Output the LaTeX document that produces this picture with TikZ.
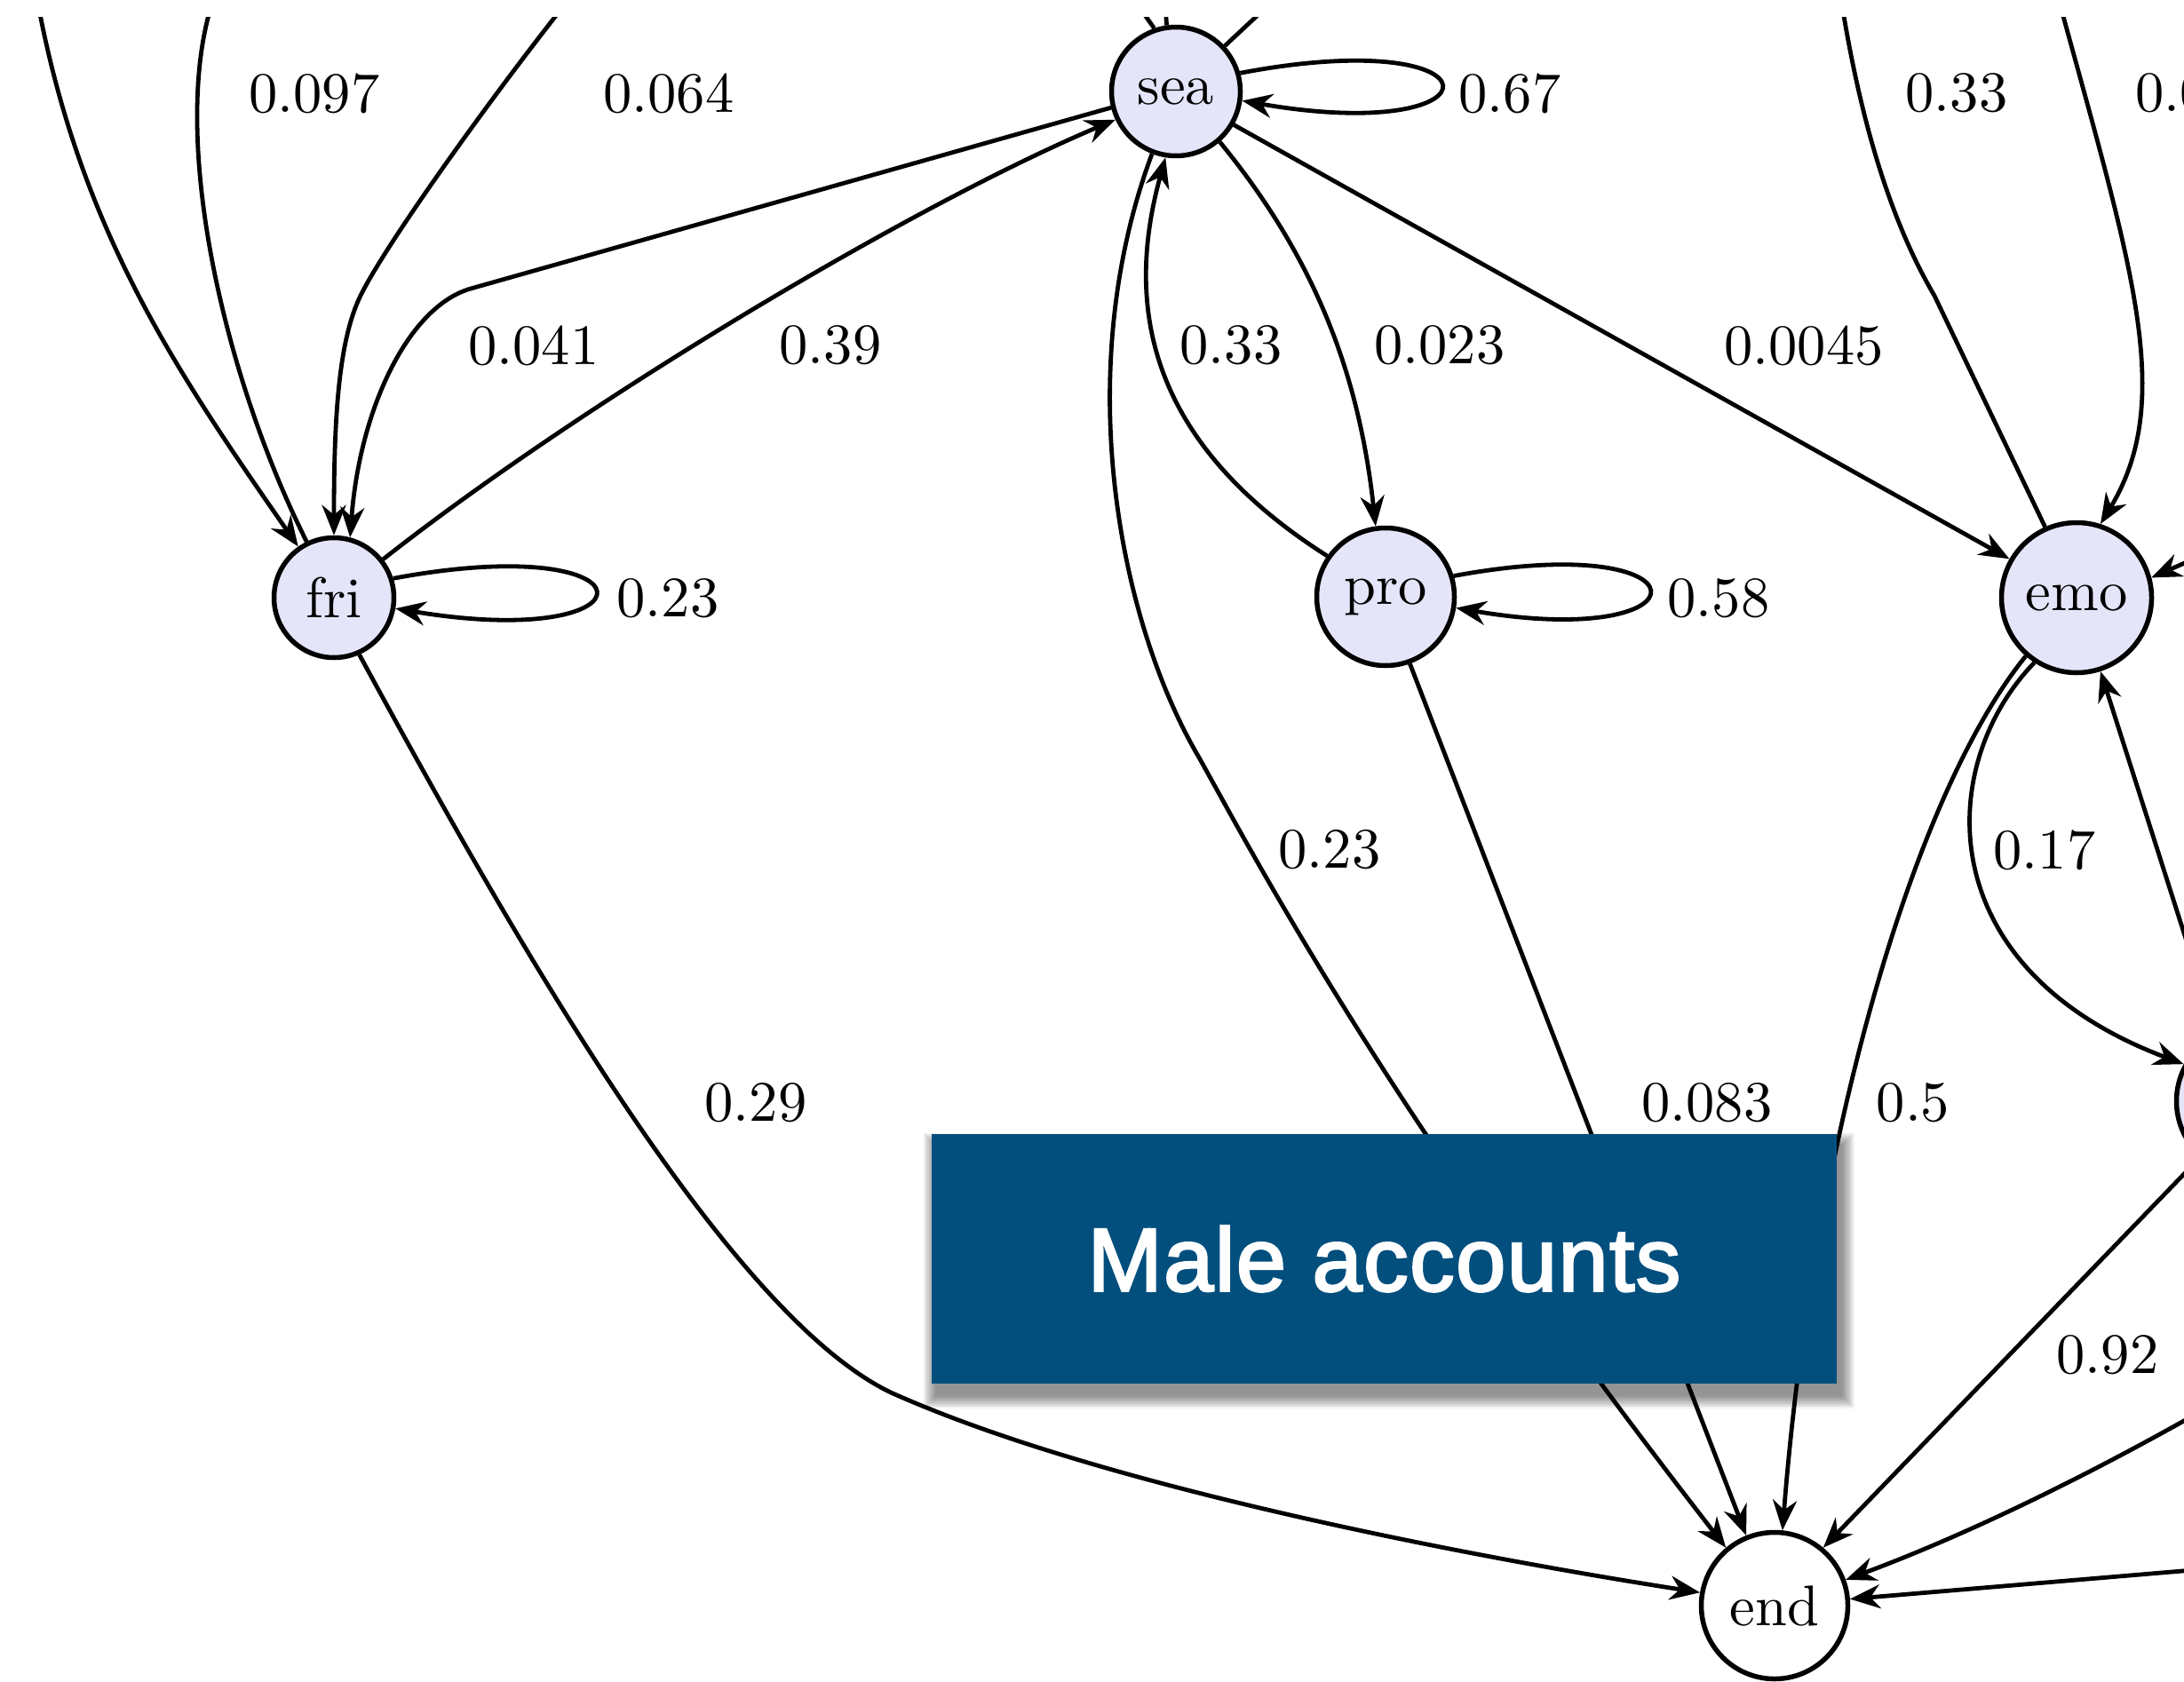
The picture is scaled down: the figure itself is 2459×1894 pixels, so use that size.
\documentclass[tikz,border=0pt]{standalone}
\usepackage{graphicx}
\usepackage{fontspec}
\newfontfamily\boxfont[FakeBold=2.5,LetterSpace=1.5]{Liberation Sans}
\usetikzlibrary{arrows.meta}
\definecolor{nodefill}{RGB}{229,229,250}
\definecolor{boxblue}{RGB}{2,79,126}
\newcommand{\lbltxt}[1]{\scalebox{6.45}{#1}}
\begin{document}
\begin{tikzpicture}[x=1pt,y=-1pt,
  st/.style={circle,draw,line width=5.5pt,fill=nodefill,inner sep=0pt},
  edge/.style={line width=4.8pt},
  arr/.style={edge,-{Stealth[length=34pt,width=27pt,inset=11pt]}},
  lab/.style={inner sep=0pt}]
\fill[white] (0,0) rectangle (2459,1894);
\useasboundingbox (0,0) rectangle (2459,1894);

% states
\node[st,minimum size=135pt] (fri) at (376,673) {\lbltxt{fri}};
\node[st,minimum size=145pt] (sea) at (1324,103) {\lbltxt{sea}};
\node[st,minimum size=155pt] (pro) at (1560,672) {\lbltxt{pro}};
\node[st,minimum size=169pt] (emo) at (2338,673) {\lbltxt{emo}};
\node[st,fill=white,minimum size=165pt] (end) at (1998,1808) {\lbltxt{end}};
\node[st,minimum size=167pt] (rnode) at (2534,1240) {};

% free ends outside the visible area
\coordinate (c1) at (42,0);
\coordinate (c2) at (240,0);
\coordinate (c3) at (640,0);
\coordinate (c15) at (2070,-20);
\coordinate (c16) at (2318,0);
\coordinate (c20) at (2530,603);
\coordinate (c22) at (2545,1550);
\coordinate (c23) at (2540,1762);
\coordinate (c24a) at (1270,-10);
\coordinate (c24b) at (1311,-10);
\coordinate (c25) at (1445,-10);

\begin{scope}
\clip (0,20) rectangle (2459,1894);
% fri
\draw[arr] (c1) .. controls (90,260) and (200,420) .. (fri.125);
\draw[edge] (fri.116) .. controls (250,420) and (190,150) .. (c2);
\draw[arr] (c3) .. controls (560,100) and (430,280) .. (404,337)
           .. controls (380,390) and (376,480) .. (fri.north);
\draw[arr] (sea.194) -- (530,325) .. controls (460,345) and (405,460) .. (fri.75);
\draw[arr] (fri.38) .. controls (660,450) and (1030,230) .. (sea.205);
\draw[arr] (fri.18) .. controls (745,595) and (745,735) .. (fri.-10);
\draw[arr] (fri.-66) .. controls (580,1060) and (820,1480) .. (1003,1568)
           .. controls (1253,1680) and (1700,1760) .. (end.170);
% sea
\draw[arr] (sea.16) .. controls (1697,25) and (1697,165) .. (sea.-8);
\draw[arr] (sea.-49) .. controls (1480,290) and (1530,420) .. (pro.98);
\draw[arr] (pro.145) .. controls (1280,490) and (1270,330) .. (sea.261);
\draw[arr] (sea.249) .. controls (1205,420) and (1260,700) .. (1350,853)
           .. controls (1410,960) and (1560,1250) .. (end.130);
\draw[arr] (sea.-30) -- (emo.150);
\draw[edge] (sea.109) -- (c24a);
\draw[edge] (sea.98) -- (c24b);
\draw[edge] (sea.43) -- (c25);
% pro
\draw[arr] (pro.17) .. controls (1929,594) and (1929,734) .. (pro.-9);
\draw[arr] (pro.-70) -- (end.112);
% emo
\draw[edge] (emo.114) -- (2178,333) .. controls (2135,260) and (2095,150) .. (c15);
\draw[arr] (c16) .. controls (2400,300) and (2450,450) .. (emo.72);
\draw[arr] (emo.229) .. controls (2150,900) and (2040,1300) .. (end.84);
\draw[arr] (emo.237) .. controls (2180,860) and (2170,1090) .. (rnode.151);
\draw[arr] (rnode.117) -- (emo.-72);
\draw[arr] (c20) -- (emo.15);
% into end from the right
\draw[arr] (rnode.228) -- (end.50);
\draw[arr] (c22) .. controls (2420,1625) and (2250,1715) .. (end.20);
\draw[arr] (c23) -- (end.5);
\end{scope}

% labels
\node[lab] (l1) at (354,105) {\lbltxt{0.097}};
\node[lab] (l2) at (753,105) {\lbltxt{0.064}};
\node[lab] (l3) at (1700,105) {\lbltxt{0.67}};
\node[lab] (l4) at (2203,105) {\lbltxt{0.33}};
\node[lab,anchor=west] (l5) at (2404,105) {\lbltxt{0.06}};
\node[lab] (l6) at (601,389) {\lbltxt{0.041}};
\node[lab] (l7) at (935,389) {\lbltxt{0.39}};
\node[lab] (l8) at (1386,389) {\lbltxt{0.33}};
\node[lab] (l9) at (1621,389) {\lbltxt{0.023}};
\node[lab] (l10) at (2031,389) {\lbltxt{0.0045}};
\node[lab] (l11) at (752,674) {\lbltxt{0.23}};
\node[lab] (l12) at (1935,674) {\lbltxt{0.58}};
\node[lab] (l13) at (1497,957) {\lbltxt{0.23}};
\node[lab] (l14) at (2302,957) {\lbltxt{0.17}};
\node[lab] (l15) at (851,1242) {\lbltxt{0.29}};
\node[lab] (l16) at (1922,1242) {\lbltxt{0.083}};
\node[lab] (l17) at (2154,1242) {\lbltxt{0.5}};
\node[lab] (l18) at (2373,1526) {\lbltxt{0.92}};

% title box with soft shadow
\foreach \e in {1,2.5,...,14.5}
  \fill[black,opacity=0.05] (1054-\e,1290-\e) rectangle (2073+\e,1571+\e);
\node[fill=boxblue,minimum width=1019pt,minimum height=281pt,inner sep=0pt,
      text=white,font=\boxfont\fontsize{101pt}{110pt}\selectfont] (box) at (1558.5,1417.5) {Male accounts};
\end{tikzpicture}
\end{document}
